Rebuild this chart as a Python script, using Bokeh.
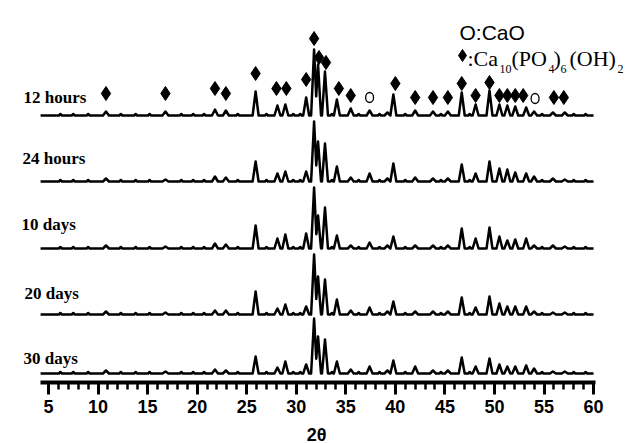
from bokeh.plotting import figure
from bokeh.models import Range1d, SingleIntervalTicker, LinearAxis
from bokeh.core.properties import value
from bokeh.embed import file_html
from bokeh.resources import INLINE

# ---------------- data ----------------
sample_labels = ["12 hours", "24 hours", "10 days", "20 days", "30 days"]
baselines = [267, 201, 134, 68, 9]          # vertical offset of each trace

peak_pos = [10.8, 16.8, 21.8, 22.9, 25.9, 28.1, 28.9, 31.0, 31.8, 32.2, 32.9, 34.1, 35.5,
            37.4, 39.2, 39.8, 42.0, 43.8, 45.3, 46.7, 48.1, 49.5, 50.5, 51.3, 52.1, 53.2,
            54.0, 55.9, 57.1]
h_12h = [4, 4, 6, 5, 24, 10, 11, 18, 66, 51, 44, 16, 7, 5, 3, 21, 5, 4, 4, 23, 11, 25, 11, 10, 9, 8, 4, 3, 3]
h_24h = [3, 2, 5, 4, 20, 8, 10, 10, 60, 40, 38, 15, 4, 8, 3, 18, 4, 3, 3, 17, 8, 20, 13, 12, 9, 8, 5, 3, 2]
h_10d = [3, 2, 5, 4, 23, 10, 14, 15, 61, 33, 41, 13, 3, 6, 3, 12, 3, 3, 3, 20, 10, 21, 12, 8, 9, 10, 3, 3, 2]
h_20d = [3, 2, 4, 4, 23, 6, 10, 8, 60, 38, 35, 15, 4, 7, 3, 13, 3, 3, 3, 17, 7, 18, 11, 8, 8, 8, 3, 2, 2]
h_30d = [3, 2, 4, 3, 17, 6, 12, 9, 55, 37, 34, 12, 4, 7, 3, 13, 7, 3, 3, 16, 7, 15, 9, 7, 7, 8, 5, 2, 2]
heights = [h_12h, h_24h, h_10d, h_20d, h_30d]

# small baseline wiggles
noise_pos = [6.2, 7.5, 9.0, 12.3, 13.8, 15.2, 18.4, 19.6, 20.7, 24.1, 27.0, 29.7, 30.4,
             33.6, 36.3, 38.4, 41.0, 44.6, 47.5, 54.8, 58.0, 59.2]
noise_h = [1.5] * len(noise_pos)

# phase markers on the top trace
hap_x = [10.8, 16.8, 21.8, 22.9, 25.9, 28.0, 29.0, 31.0, 31.8, 32.3, 33.0, 34.3, 35.5,
         40.0, 42.0, 43.8, 45.3, 46.7, 48.1, 49.5, 50.5, 51.3, 52.1, 52.9, 56.0, 57.0]
hap_y = [289, 289, 294, 289, 309, 294, 294, 303, 344, 325, 320, 294, 287,
         299, 285, 285, 285, 299, 287, 300, 287, 287, 287, 287, 285, 285]
cao_x = [37.4, 54.1]
cao_y = [285, 284]

x_start, x_end = 4.2, 60.0
major_tick_step = 5

W, H = 639, 443
AXIS_PX_X5 = 48      # pixel column of 2theta = 5
PX_PER_UNIT = 9.91
AXIS_PX_Y = 382      # pixel row of the axis line


def px2x(px):
    return 5 + (px - AXIS_PX_X5) / PX_PER_UNIT


def build_trace(base, pos, hts):
    items = [(p, h, 0.3) for p, h in zip(pos, hts)] + [(p, h, 0.15) for p, h in zip(noise_pos, noise_h)]
    items.sort()
    xs, ys = [x_start], [base]
    n = len(items)
    overlap_prev = False
    for i, (p, h, w) in enumerate(items):
        if not overlap_prev:
            xs.append(p - w); ys.append(base)
        xs.append(p); ys.append(base + h)
        overlap_prev = False
        if i < n - 1:
            p2, h2, w2 = items[i + 1]
            if p + w > p2 - w2:
                xv = (h - h2 + h * p / w + h2 * p2 / w2) / (h / w + h2 / w2)
                yv = h * (1 - (xv - p) / w)
                xs.append(xv); ys.append(base + max(yv, 0))
                overlap_prev = True
                continue
        xs.append(p + w); ys.append(base)
    xs.append(x_end); ys.append(base)
    return xs, ys


p = figure(width=W, height=H, output_backend="svg", toolbar_location=None,
           x_range=Range1d(px2x(0), px2x(W)), y_range=Range1d(AXIS_PX_Y - H, AXIS_PX_Y),
           x_axis_location=None, y_axis_location=None,
           min_border_left=0, min_border_right=0, min_border_top=0, min_border_bottom=0)
p.outline_line_color = None
p.grid.visible = False
p.background_fill_color = "white"

for base, hts in zip(baselines, heights):
    xs, ys = build_trace(base, peak_pos, hts)
    p.line(xs, ys, line_color="black", line_width=2.5, line_join="round")

p.scatter(hap_x, hap_y, marker="diamond", size=14, fill_color="black", line_color="black")
p.ellipse(cao_x, cao_y, width=0.8, height=10, fill_color=None, line_color="black", line_width=1.3)

ax = LinearAxis(fixed_location=0, bounds=(x_start, 60.2))
ax.ticker = SingleIntervalTicker(interval=major_tick_step, num_minor_ticks=5)
ax.axis_line_width = 4
ax.axis_line_color = "black"
ax.major_tick_line_width = 3
ax.major_tick_out = 12
ax.major_tick_in = 0
ax.minor_tick_line_width = 2.5
ax.minor_tick_out = 7
ax.minor_tick_in = 0
ax.major_label_text_font = "Liberation Sans"
ax.major_label_text_font_style = "bold"
ax.major_label_text_font_size = "18px"
ax.major_label_text_color = "black"
ax.major_label_standoff = 5
p.add_layout(ax, "below")


def add_text(x, y, text, font, size, style="normal", align="left", baseline="alphabetic"):
    p.text([x], [y], text=[text], text_font=value(font), text_font_size=size,
           text_font_style=style, text_align=align, text_baseline=baseline,
           text_color="black")


# trace labels
lab_left_px = [23, 22, 21, 24, 23]
lab_base_y = [285, 224, 158, 89, 24]
for name, lx, ly in zip(sample_labels, lab_left_px, lab_base_y):
    add_text(px2x(lx), ly, name, "Liberation Serif", "17px", "bold")

# x axis title
add_text(px2x(316), -52, "2θ", "Liberation Sans", "18px", "bold", align="center")

# legend
add_text(px2x(459), 350, "O:CaO", "Liberation Sans", "21px")
p.scatter([px2x(462)], [327], marker="diamond", size=12, fill_color="black", line_color="black")
pieces = [(":", 467, 324, "22px"), ("Ca", 473, 324, "22px"), ("10", 499, 314, "12px"),
          ("(PO", 511, 324, "22px"), ("4", 548, 314, "12px"), (")", 553, 324, "22px"),
          ("6", 560, 314, "12px"), ("(OH)", 569, 324, "22px"), ("2", 617, 314, "12px")]
for t, xp, yp, fs in pieces:
    add_text(px2x(xp), yp, t, "Liberation Serif", fs)

open("out.html", "w").write(file_html(p, INLINE))
